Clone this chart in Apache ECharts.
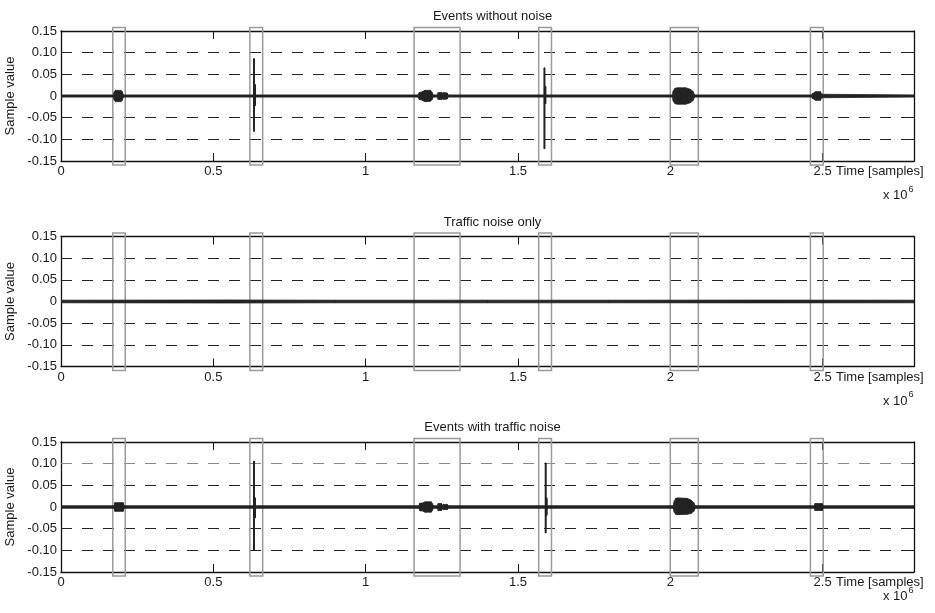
<!DOCTYPE html>
<html>
<head>
<meta charset="utf-8">
<script src="https://cdn.jsdelivr.net/npm/echarts@6/dist/echarts.min.js"></script>
<style>html,body{margin:0;padding:0;background:#fff}#c{width:935px;height:613px}</style>
</head>
<body>
<div id="c"></div>
<script>
// ---------------- data ----------------
const titles = ['Events without noise', 'Traffic noise only', 'Events with traffic noise'];
const xTickLabels = ['0', '0.5', '1', '1.5', '2', '2.5'];
const yTickLabels = ['-0.15', '-0.10', '-0.05', '0', '0.05', '0.10', '0.15'];
const gridLineValues = [-0.10, -0.05, 0.05, 0.10];
const xName = 'Time [samples]';
const yName = 'Sample value';
// event windows (x 10^6 samples)
const windowStart = [0.170, 0.620, 1.159, 1.568, 2.000, 2.460];
const windowEnd   = [0.211, 0.662, 1.310, 1.610, 2.092, 2.502];
// signal envelopes: [x (x10^6 samples), upper, lower]
const cleanEnvelope = [
  [0, 0.0025, -0.0025], [0.172, 0.0025, -0.0025], [0.175, 0.010, -0.010], [0.179, 0.013, -0.013],
  [0.196, 0.013, -0.013], [0.201, 0.010, -0.010], [0.205, 0.0025, -0.0025],
  [0.6325, 0.0025, -0.0025], [0.6326, 0.086, -0.0815], [0.6345, 0.086, -0.0815],
  [0.6346, 0.026, -0.022], [0.6385, 0.026, -0.022], [0.6386, 0.0025, -0.0025],
  [1.172, 0.0025, -0.0025], [1.176, 0.008, -0.008], [1.183, 0.009, -0.009], [1.195, 0.013, -0.013],
  [1.213, 0.013, -0.012], [1.218, 0.008, -0.008], [1.222, 0.0025, -0.0025],
  [1.236, 0.0025, -0.0025], [1.238, 0.008, -0.008], [1.249, 0.008, -0.008], [1.252, 0.004, -0.004],
  [1.254, 0.008, -0.008], [1.268, 0.007, -0.007], [1.271, 0.0025, -0.0025],
  [1.5860, 0.0025, -0.0025], [1.5861, 0.065, -0.1215], [1.5878, 0.065, -0.1215],
  [1.5879, 0.022, -0.018], [1.5910, 0.022, -0.018], [1.5911, 0.0025, -0.0025],
  [2.007, 0.0025, -0.0025], [2.010, 0.012, -0.012], [2.016, 0.018, -0.018], [2.024, 0.019, -0.019],
  [2.050, 0.019, -0.019], [2.064, 0.016, -0.016], [2.074, 0.011, -0.011], [2.080, 0.0025, -0.0025],
  [2.465, 0.0025, -0.0025], [2.467, 0.006, -0.006], [2.472, 0.007, -0.007], [2.476, 0.010, -0.010],
  [2.493, 0.010, -0.010], [2.497, 0.004, -0.004], [2.8, 0.0025, -0.0025]
];
const noiseEnvelope = [
  [0, 0.0030, -0.0030], [0.40, 0.0033, -0.0033], [0.55, 0.0035, -0.0035], [0.90, 0.0030, -0.0030],
  [1.40, 0.0031, -0.0031], [1.80, 0.0030, -0.0030], [2.30, 0.0032, -0.0032], [2.8, 0.0030, -0.0030]
];
const noisyEnvelope = [
  [0, 0.003, -0.003], [0.175, 0.003, -0.003], [0.177, 0.010, -0.010], [0.204, 0.010, -0.010],
  [0.207, 0.003, -0.003],
  [0.6325, 0.003, -0.003], [0.6326, 0.106, -0.100], [0.6345, 0.106, -0.100],
  [0.6346, 0.021, -0.025], [0.6385, 0.021, -0.025], [0.6386, 0.003, -0.003],
  [1.175, 0.003, -0.003], [1.178, 0.009, -0.009], [1.186, 0.009, -0.009], [1.195, 0.012, -0.012],
  [1.215, 0.012, -0.012], [1.219, 0.008, -0.008], [1.222, 0.003, -0.003],
  [1.236, 0.003, -0.003], [1.238, 0.008, -0.008], [1.249, 0.008, -0.008], [1.252, 0.004, -0.004],
  [1.255, 0.006, -0.006], [1.268, 0.006, -0.006], [1.271, 0.003, -0.003],
  [1.5899, 0.003, -0.003], [1.5900, 0.1017, -0.060], [1.5918, 0.1017, -0.060],
  [1.5919, 0.021, -0.019], [1.5950, 0.021, -0.019], [1.5951, 0.003, -0.003],
  [2.010, 0.003, -0.003], [2.013, 0.013, -0.012], [2.018, 0.020, -0.017], [2.025, 0.021, -0.0176],
  [2.055, 0.020, -0.017], [2.068, 0.016, -0.015], [2.077, 0.010, -0.010], [2.082, 0.003, -0.003],
  [2.474, 0.003, -0.003], [2.475, 0.008, -0.008], [2.499, 0.008, -0.008], [2.500, 0.003, -0.003],
  [2.8, 0.003, -0.003]
];
const envelopes = [cleanEnvelope, noiseEnvelope, noisyEnvelope];

// ---------------- layout / style ----------------
const FONT = "'Liberation Sans', Arial, Helvetica, sans-serif";
const TXT = '#1a1a1a';
const SIG = '#222222';
const gridTops = [31, 236.5, 442];
const gridH = 130;
const gridLeft = 61, gridRight = 21;
const xTimeY = [173, 378.5, 584];
const x10Y = [196, 401.5, 597];
const dashColors = [['#222','#222','#222','#222'], ['#222','#222','#222','#222'], ['#222','#222','#222','#888']];

const chart = echarts.init(document.getElementById('c'), null, {renderer: 'canvas'});

const grid = [], xAxis = [], yAxis = [], series = [], title = [], graphic = [];
gridTops.forEach((top, i) => {
  grid.push({left: gridLeft, right: gridRight, top: top, height: gridH, containLabel: false, outerBoundsMode: 'none'});
  const baseX = {
    gridIndex: i, type: 'value', min: 0, max: 2.8, interval: 0.5,
    axisLine: {show: true, onZero: false, lineStyle: {color: '#111', width: 1.3}},
    axisTick: {show: true, inside: true, length: 8, lineStyle: {color: '#111', width: 1}},
    splitLine: {show: false}
  };
  xAxis.push(Object.assign({}, baseX, {
    position: 'bottom',
    axisLabel: {show: true, showMaxLabel: false, margin: 4, color: TXT, fontSize: 13, fontFamily: FONT,
      formatter: (v) => { const k = Math.round(v / 0.5); return (Math.abs(v - k * 0.5) < 1e-9 && k < xTickLabels.length) ? xTickLabels[k] : ''; }}
  }));
  xAxis.push(Object.assign({}, baseX, {position: 'top', axisLabel: {show: false}}));
  const baseY = {
    gridIndex: i, type: 'value', min: -0.15, max: 0.15, interval: 0.05,
    axisLine: {show: true, onZero: false, lineStyle: {color: '#111', width: 1.3}},
    axisTick: {show: true, inside: true, length: 6, lineStyle: {color: '#111', width: 1}},
    splitLine: {show: false}
  };
  yAxis.push(Object.assign({}, baseY, {
    position: 'left',
    name: yName, nameLocation: 'middle', nameGap: 40, nameRotate: 90,
    nameTextStyle: {color: TXT, fontSize: 13, fontFamily: FONT},
    axisLabel: {show: true, margin: 4, color: TXT, fontSize: 13, fontFamily: FONT,
      formatter: (v) => { const k = Math.round((v + 0.15) / 0.05); return yTickLabels[k]; }}
  }));
  yAxis.push(Object.assign({}, baseY, {position: 'right', axisLabel: {show: false}}));

  title.push({
    text: titles[i], left: 487.5, top: gridTops[i] - 26, textAlign: 'center',
    textStyle: {color: TXT, fontSize: 13, fontWeight: 'normal', fontFamily: FONT}
  });

  const env = envelopes[i];
  // dashed grid lines
  series.push({
    type: 'line', xAxisIndex: 2 * i, yAxisIndex: 2 * i, data: [], silent: true,
    markLine: {
      silent: true, symbol: 'none', z: 3, animation: false,
      label: {show: false},
      data: gridLineValues.map((v, k) => ({yAxis: v, lineStyle: {color: dashColors[i][k], width: 1, type: [11, 10]}}))
    }
  });
  // event windows
  series.push({
    type: 'custom', xAxisIndex: 2 * i, yAxisIndex: 2 * i, clip: false, z: 5, silent: true,
    data: windowStart.map((s, k) => [s, windowEnd[k]]),
    encode: {x: [0, 1]},
    renderItem: (params, api) => {
      const p0 = api.coord([api.value(0), 0.15]);
      const p1 = api.coord([api.value(1), -0.15]);
      return {type: 'rect', shape: {x: p0[0], y: p0[1] - 3.5, width: p1[0] - p0[0], height: p1[1] - p0[1] + 7.5},
        style: {fill: 'none', stroke: '#9a9a9a', lineWidth: 1.5}};
    }
  });
  // signal envelope as band segments
  const segs = [];
  for (let k = 0; k < env.length - 1; k++) {
    segs.push([env[k][0], env[k][1], env[k][2], env[k + 1][0], env[k + 1][1], env[k + 1][2]]);
  }
  series.push({
    type: 'custom', xAxisIndex: 2 * i, yAxisIndex: 2 * i, z: 10, silent: true, clip: true,
    data: segs,
    encode: {x: [0, 3], y: [1, 2, 4, 5]},
    renderItem: (params, api) => {
      const a = api.coord([api.value(0), api.value(1)]);
      const b = api.coord([api.value(3), api.value(4)]);
      const c = api.coord([api.value(3), api.value(5)]);
      const d = api.coord([api.value(0), api.value(2)]);
      return {type: 'polygon', shape: {points: [a, b, c, d]},
        style: {fill: SIG, stroke: SIG, lineWidth: 0.8, lineJoin: 'round'}};
    }
  });

  graphic.push({type: 'text', left: 836, top: xTimeY[i] - 8,
    style: {text: xName, fill: TXT, fontSize: 13, fontFamily: FONT}});
  graphic.push({type: 'text', left: 883, top: x10Y[i] - 11,
    style: {text: '{a|x 10}{b|6}', fill: TXT, fontFamily: FONT,
      rich: {a: {fontSize: 13, fontFamily: FONT, fill: TXT, verticalAlign: 'bottom'},
             b: {fontSize: 9, fontFamily: FONT, fill: TXT, verticalAlign: 'top', padding: [0, 0, 8, 1]}}}});
});

chart.setOption({
  animation: false,
  backgroundColor: '#fff',
  title, grid, xAxis, yAxis, series, graphic
});
</script>
</body>
</html>
